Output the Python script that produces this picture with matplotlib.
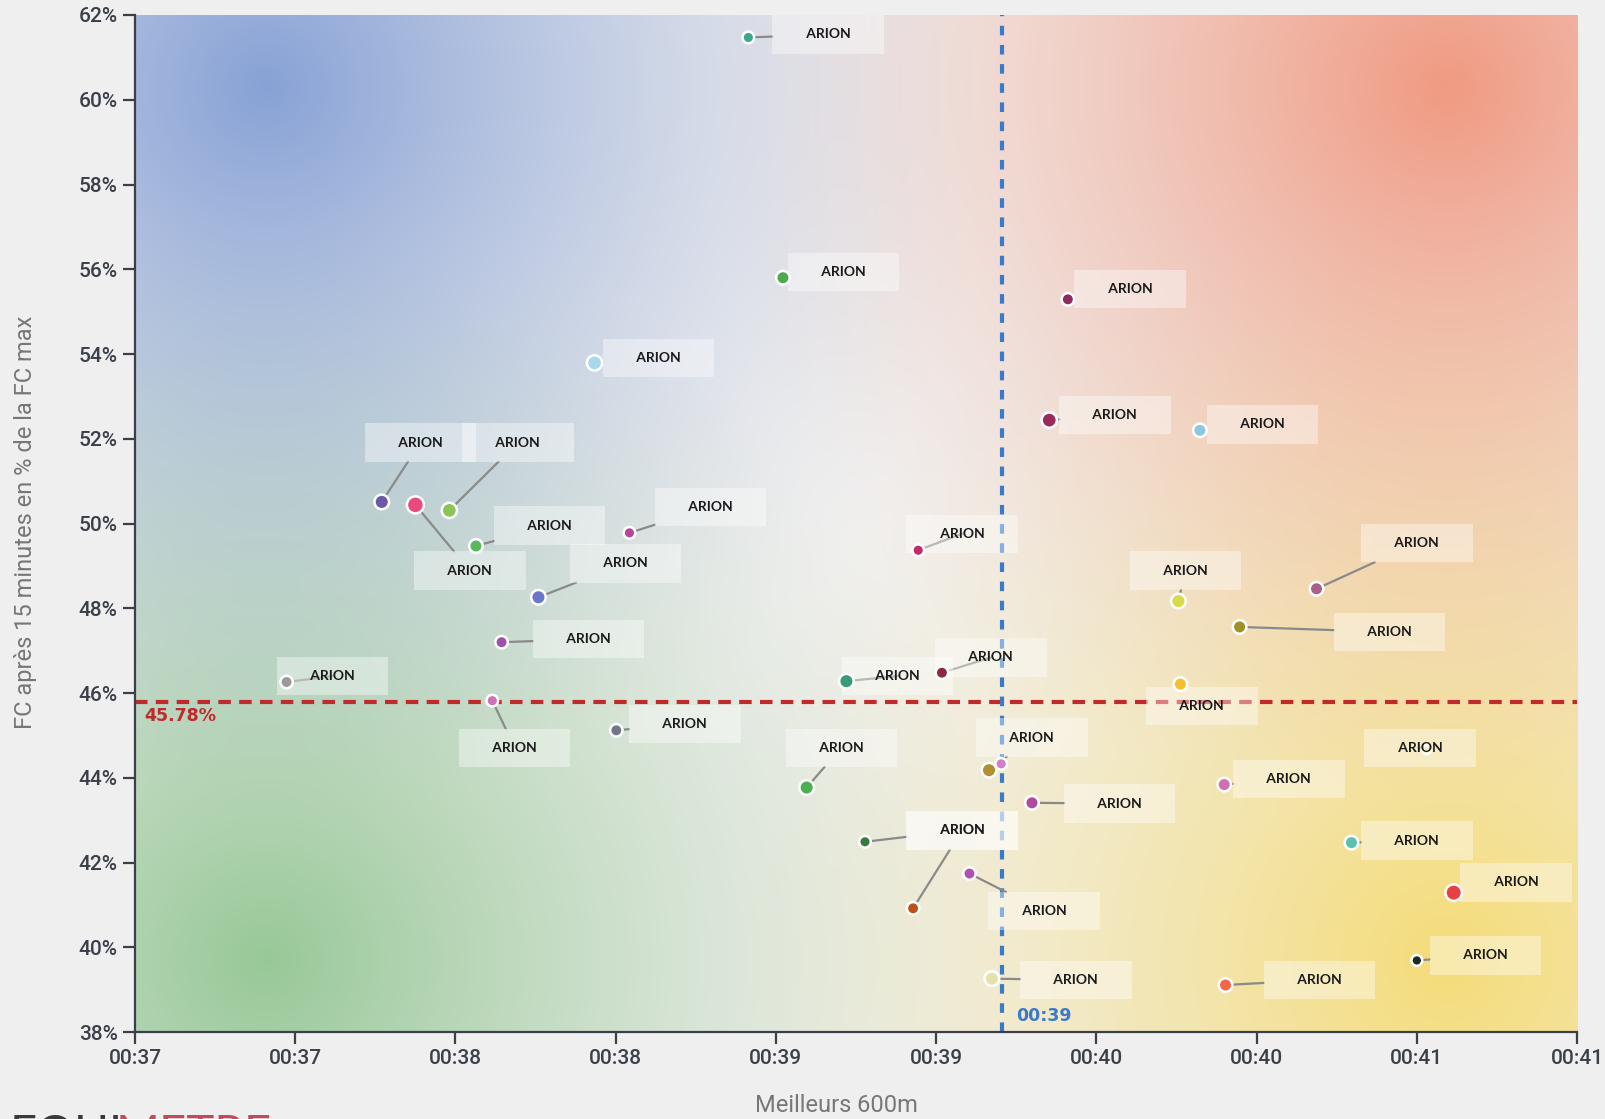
import numpy as np
import matplotlib
matplotlib.use("Agg")
import matplotlib.pyplot as plt
from matplotlib.ticker import FuncFormatter, MultipleLocator
from matplotlib.colors import to_rgb

# data: best 600m time (s) vs HR after 15 min (% of max)
best_600m = [38.914, 39.022, 38.434, 39.911, 39.853, 40.323, 37.770, 37.875,
             37.981, 38.064, 38.543, 38.259, 39.444, 40.256, 40.687, 40.447,
             38.144, 37.473, 39.220, 39.518, 40.262, 38.115, 38.502, 39.096,
             39.665, 39.703, 39.799, 40.399, 41.030, 40.796, 39.278, 39.604,
             39.428, 41.115, 41.000, 40.403, 39.674]
fc_15min = [61.47, 55.80, 53.79, 55.29, 52.44, 52.20, 50.51, 50.44,
            50.31, 49.47, 49.78, 48.26, 49.37, 48.17, 48.46, 47.56,
            47.20, 46.26, 46.28, 46.48, 46.21, 45.82, 45.12, 43.77,
            44.18, 44.33, 43.41, 43.84, 44.66, 42.47, 42.49, 41.74,
            40.92, 41.29, 39.69, 39.11, 39.26]
names = ["ARION"] * len(best_600m)
mean_x = 39.705
mean_y = 45.78

colors = ["#3aa88a", "#4caa4c", "#a8d8ec", "#8e2a5e", "#9a2a58", "#8cc8e0",
          "#6a58a8", "#e84a7c", "#8cc456", "#5cb85c", "#b8449a", "#6a78c8",
          "#c42a6a", "#d8dc4a", "#a8608a", "#a09028", "#a050a8", "#9a9a9a",
          "#3a9a7a", "#8a2a3a", "#f5c030", "#d070b8", "#707888", "#4caf50",
          "#b09030", "#d080c8", "#b04a9c", "#d070b0", "#f2e2a0", "#5cc0b0",
          "#3a7a3a", "#b050b0", "#c0501a", "#e84040", "#1a2a20", "#f06848",
          "#e4e2a8"]
sizes = [70, 95, 120, 80, 120, 95, 110, 150, 120, 95, 70, 110, 70, 110, 95, 95,
         80, 80, 110, 80, 95, 70, 80, 110, 110, 70, 95, 95, 40, 95, 70, 80,
         80, 140, 60, 95, 110]

# label anchor positions (layout)
label_x = [39.163, 39.211, 38.633, 40.105, 40.058, 40.518, 37.891, 38.045,
           38.195, 38.294, 38.796, 38.530, 39.581, 40.278, 41.000, 40.914,
           38.415, 37.617, 39.380, 39.671, 40.329, 38.185, 38.716, 39.204,
           39.799, None, 40.073, 40.601, 41.010, 41.000, 39.581, 39.837,
           39.581, 41.310, 41.214, 40.696, 39.936]
label_y = [61.54, 55.94, 53.91, 55.53, 52.56, 52.34, 51.91, 48.89,
           51.91, 49.95, 50.39, 49.06, 49.76, 48.89, 49.54, 47.44,
           47.27, 46.40, 46.40, 46.84, 45.70, 44.71, 45.27, 44.71,
           44.95, None, 43.39, 43.97, 44.71, 42.52, 42.76, 40.85,
           42.76, 41.53, 39.81, 39.23, 39.23]
# points that sit beneath a label box
under_box = [28, 30]

x_min, x_max = 37.0, 41.5
y_min, y_max = 38.0, 62.0

fig = plt.figure(figsize=(16.05, 11.19), dpi=100, facecolor="#efefef")
ax = fig.add_axes([0.0841, 0.0777, 0.8985, 0.9089])
ax.set_facecolor("#efefef")

# background gradient: four corner glows on a pale base
u = np.linspace(0, 1, 600)
v = np.linspace(0, 1, 420)
U, V = np.meshgrid(u, v)
base = np.array(to_rgb("#f1f0ef"))
corners = [((0.09, 0.93), "#88a2d6"), ((0.91, 0.93), "#f09a82"),
           ((0.09, 0.07), "#98c898"), ((0.91, 0.07), "#f5dc78")]
acc = np.zeros(U.shape + (3,))
wsum = np.zeros(U.shape)
for (cu, cv), col in corners:
    d = np.sqrt(((U - cu) * 1.42) ** 2 + (V - cv) ** 2)
    w = np.clip(1 - d / 0.74, 0, 1) ** 1.45
    acc += w[..., None] * np.array(to_rgb(col))
    wsum += w
over = np.maximum(wsum, 1)
img = acc / over[..., None] + base * np.clip(1 - wsum, 0, 1)[..., None]
ax.imshow(img, extent=[x_min, x_max, y_min, y_max], origin="lower",
          aspect="auto", zorder=0, interpolation="bilinear")

# mean lines
ax.axhline(mean_y, color="#c02a2a", lw=3, dashes=(3, 2), zorder=2)
ax.axvline(mean_x, color="#3a7ac8", lw=3, dashes=(2.3, 2.3), zorder=2)

pad = " " * 6
label_style = dict(ha="center", va="center", fontsize=10, fontweight="bold",
                   family=["Lato", "DejaVu Sans"])
for name, x, y, lx, ly in zip(names, best_600m, fc_15min, label_x, label_y):
    if lx is None:
        continue
    # leader line, clipped at the (invisible) label box
    ax.annotate(pad + name + pad, xy=(x, y), xytext=(lx, ly), color=(0, 0, 0, 0),
                zorder=3, bbox=dict(boxstyle="square,pad=0.95", fc="none", ec="none"),
                arrowprops=dict(arrowstyle="-", color="#8a8a8a", lw=1.6,
                                shrinkA=0, shrinkB=0), **label_style)

xs = np.array(best_600m)
ys = np.array(fc_15min)
cs = np.array(colors)
ss = np.array(sizes)
hidden = np.isin(np.arange(len(xs)), under_box)
ax.scatter(xs[~hidden], ys[~hidden], s=ss[~hidden], c=cs[~hidden],
           edgecolors="white", linewidths=1.8, zorder=6)
ax.scatter(xs[hidden], ys[hidden], s=ss[hidden], c=cs[hidden],
           edgecolors="white", linewidths=1.8, zorder=4)

for name, lx, ly in zip(names, label_x, label_y):
    if lx is None:
        continue
    ax.text(lx, ly, pad + name + pad, color="#1a1a1a", zorder=5,
            bbox=dict(boxstyle="square,pad=0.95", fc="white", ec="none",
                      alpha=0.4), **label_style)

ax.text(37.03, mean_y - 0.12, f"{mean_y:.2f}%", color="#c02a2a", fontsize=12.5,
        fontweight="bold", ha="left", va="top", zorder=7)
ax.text(mean_x + 0.045, 38.38, "00:39", color="#3a7ac8", fontsize=12.5,
        fontweight="bold", ha="left", va="center", zorder=7)

ax.set_xlim(x_min, x_max)
ax.set_ylim(y_min, y_max)
ax.xaxis.set_major_locator(MultipleLocator(0.5))
ax.yaxis.set_major_locator(MultipleLocator(2))
ax.xaxis.set_major_formatter(FuncFormatter(lambda val, p: f"00:{int(np.floor(val + 1e-6)):02d}"))
ax.yaxis.set_major_formatter(FuncFormatter(lambda val, p: f"{val:.0f}%"))
for s in ["top", "right"]:
    ax.spines[s].set_visible(False)
for s in ["left", "bottom"]:
    ax.spines[s].set_color("#3a3f4a")
    ax.spines[s].set_linewidth(1.6)
ax.tick_params(colors="#3a3f4a", labelsize=15, length=8.5, width=1.6, pad=4)
for lab in ax.get_xticklabels() + ax.get_yticklabels():
    lab.set_family(["Roboto", "DejaVu Sans"])
    lab.set_fontweight("medium")

fig.text(0.016, 0.5335, "FC après 15 minutes en % de la FC max", rotation=90,
         ha="center", va="center", fontsize=17, color="#777777",
         family=["Roboto", "DejaVu Sans"])
fig.text(0.521, 0.012, "Meilleurs 600m", ha="center", va="center",
         fontsize=17, color="#777777", family=["Roboto", "DejaVu Sans"])

# partially visible logo
fig.text(0.006, -0.033, "EQUI", ha="left", va="bottom", fontsize=34,
         color="#3a3a3a", family=["Lato", "DejaVu Sans"])
fig.text(0.072, -0.033, "METRE", ha="left", va="bottom", fontsize=34,
         color="#c24a5a", family=["Lato", "DejaVu Sans"])

fig.savefig("out.png", dpi=100, facecolor=fig.get_facecolor())
